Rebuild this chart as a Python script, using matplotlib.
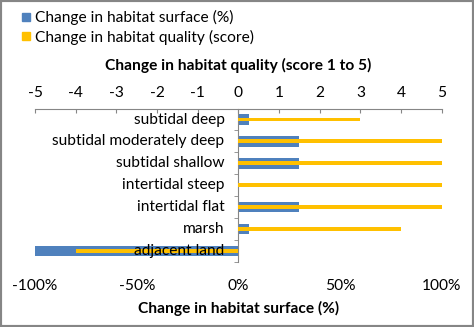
import matplotlib.pyplot as plt
from matplotlib.lines import Line2D
from matplotlib.patches import Rectangle
from matplotlib.ticker import PercentFormatter
import numpy as np

plt.rcParams['font.family'] = ['Lato', 'DejaVu Sans']
plt.rcParams['axes.unicode_minus'] = False

habitats = ["subtidal deep", "subtidal moderately deep", "subtidal shallow",
            "intertidal steep", "intertidal flat", "marsh", "adjacent land"]
surface_change = [5, 30, 30, 0, 30, 5, -100]   # %
quality_change = [3, 5, 5, 5, 5, 4, -4]         # score

blue = '#4F81BD'
orange = '#FFC000'
grey = '#868686'
fs = 11.2

y = np.arange(len(habitats))

fig = plt.figure(figsize=(4.74, 3.27), dpi=100)
ax = fig.add_axes([0.074, 0.199, 0.858, 0.469])
ax.barh(y, surface_change, height=0.48, color=blue, zorder=2)
ax.set_xlim(-100, 100)
ax.set_ylim(len(habitats) - 0.5, -0.5)
ax.xaxis.set_major_formatter(PercentFormatter(decimals=0))
ax.set_xticks([-100, -50, 0, 50, 100])
ax.tick_params(axis='x', length=0, labelsize=fs, pad=12)
ax.set_xlabel('Change in habitat surface (%)', fontweight='bold', fontsize=fs, labelpad=6)

for s in ['top', 'right', 'bottom']:
    ax.spines[s].set_visible(False)
ax.spines['left'].set_position(('data', 0))
ax.spines['left'].set_color(grey)
ax.set_yticks(y)
ax.set_yticklabels([])
ax.tick_params(axis='y', which='major', length=0)
ax.set_yticks(np.arange(len(habitats) + 1) - 0.5, minor=True)
ax.tick_params(axis='y', which='minor', length=3, color=grey, direction='out')

ax2 = ax.twiny()
ax2.barh(y, quality_change, height=0.18, color=orange, zorder=2)
ax2.set_xlim(-5, 5)
ax2.set_xticks(range(-5, 6))
ax2.tick_params(axis='x', length=3, direction='in', color=grey, labelsize=fs, pad=6)
ax2.set_xlabel('Change in habitat quality (score 1 to 5)', fontweight='bold', fontsize=fs, labelpad=11.5)
for s in ['left', 'right', 'bottom']:
    ax2.spines[s].set_visible(False)
ax2.spines['top'].set_color(grey)

for yi, name in zip(y, habitats):
    ax2.annotate(name, xy=(0, yi), xytext=(-10, 0), textcoords='offset points',
                 ha='right', va='center', fontsize=fs, zorder=5)

handles = [Line2D([], [], marker='s', linestyle='none', color=blue, markersize=6),
           Line2D([], [], marker='s', linestyle='none', color=orange, markersize=6)]
fig.legend(handles, ['Change in habitat surface (%)', 'Change in habitat quality (score)'],
           loc='upper left', bbox_to_anchor=(0.017, 1.0), frameon=False, fontsize=fs,
           handletextpad=0.1, handlelength=1.0, labelspacing=0.3, borderaxespad=0.25)

fig.patches.append(Rectangle((0, 0), 1, 1, transform=fig.transFigure, fill=False,
                             edgecolor=grey, linewidth=3))

plt.savefig('out.png', dpi=100)
